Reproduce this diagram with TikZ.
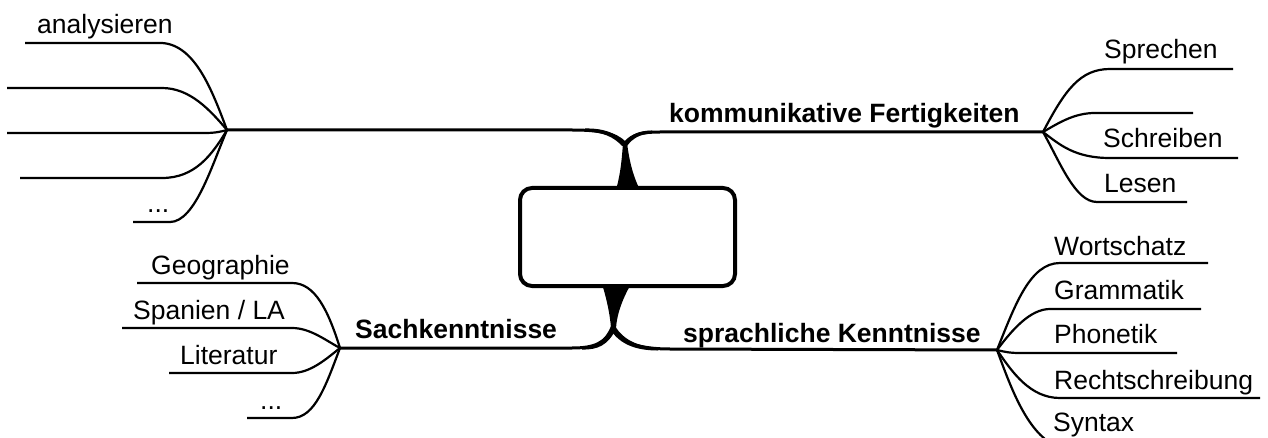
\documentclass[tikz,border=0pt]{standalone}
\usepackage{fontspec}
\setmainfont{Liberation Sans}
\begin{document}
\begin{tikzpicture}[x=1pt,y=-1pt,
  leaf/.style={anchor=base west,inner sep=0pt,font=\fontsize{26.5}{30}\selectfont},
  topic/.style={anchor=base west,inner sep=0pt,font=\fontsize{26.5}{30}\selectfont\bfseries},
  twig/.style={line width=2.2pt,line join=round},
  bough/.style={line width=3pt,line join=round},
  stem/.style={fill=black},
  centre/.style={draw,line width=4pt,rounded corners=12pt,fill=white}]
\useasboundingbox (0,0) rectangle (1268,438);
\clip (0,0) rectangle (1268,438);

% hubs where the twigs meet
\coordinate (hubA) at (227,130);
\coordinate (hubK) at (1043,132);
\coordinate (hubS) at (340,348);
\coordinate (hubL) at (997,350);
\coordinate (j1) at (625,143);
\coordinate (j2) at (613,328);

% tapered stems above and below the central box
\fill[stem] (616,190) .. controls (621,172) and (622,156) .. (623,143)
  -- (627,143) .. controls (629,158) and (632,174) .. (640,190) -- cycle;
\fill[stem] (602,284) .. controls (607,300) and (610,315) .. (611,328)
  -- (616,328) .. controls (617,313) and (623,298) .. (631,284) -- cycle;

% main boughs, thicker where they leave the stems
\draw[bough] (j1) .. controls (615,133) and (600,130) .. (572,130) -- (hubA);
\fill[stem] (626,145) .. controls (618,133) and (603,128) .. (585,128.5)
  -- (585,131.5) .. controls (603,132) and (614,137) .. (622,146) -- cycle;
\draw[bough] (j1) .. controls (632,135) and (640,132) .. (660,132) -- (hubK);
\fill[stem] (622,145) .. controls (630,135) and (638,130.5) .. (652,130.5)
  -- (652,133.5) .. controls (640,134) and (633,138) .. (627,146) -- cycle;
\draw[bough] (j2) .. controls (605,343) and (595,348) .. (572,348) -- (hubS);
\fill[stem] (611,326) .. controls (605,341) and (596,346) .. (582,346.5)
  -- (582,349.5) .. controls (598,350) and (608,345) .. (616,329) -- cycle;
\draw[bough] (j2) .. controls (620,343) and (640,349) .. (670,349) -- (hubL);
\fill[stem] (610,329) .. controls (620,345) and (637,350.5) .. (658,350.5)
  -- (658,347.5) .. controls (640,347) and (624,341) .. (615,326) -- cycle;

% central box
\node[centre,minimum width=215pt,minimum height=98pt] (core) at (627.5,237) {};

% topic labels
\node[topic] (komm) at (669,123) {kommunikative Fertigkeiten};
\node[topic] (sach) at (355,338) {Sachkenntnisse};
\node[topic] (spra) at (683,342) {sprachliche Kenntnisse};

% twigs on the upper left
\coordinate (a1) at (25,43);
\coordinate (a2) at (7,88);
\coordinate (a3) at (7,133);
\coordinate (a4) at (20,178);
\coordinate (a5) at (133,222);
\draw[twig] (hubA) .. controls (212,90) and (195,45) .. (162,43) -- (a1);
\draw[twig] (hubA) .. controls (210,110) and (190,88) .. (162,88) -- (a2);
\draw[twig] (hubA) .. controls (220,132) and (214,133) .. (205,133) -- (a3);
\draw[twig] (hubA) .. controls (212,155) and (195,178) .. (162,178) -- (a4);
\draw[twig] (hubA) .. controls (212,165) and (195,222) .. (170,222) -- (a5);
\node[leaf] (analys) at (37,34) {analysieren};
\node[leaf] (adots) at (147,213) {...};

% twigs on the upper right
\coordinate (k1) at (1233,69);
\coordinate (k2) at (1193,113);
\coordinate (k3) at (1238,158);
\coordinate (k4) at (1187,202);
\draw[twig] (hubK) .. controls (1065,90) and (1080,69) .. (1110,69) -- (k1);
\draw[twig] (hubK) .. controls (1060,122) and (1075,113) .. (1095,113) -- (k2);
\draw[twig] (hubK) .. controls (1060,145) and (1075,158) .. (1110,158) -- (k3);
\draw[twig] (hubK) .. controls (1060,162) and (1075,202) .. (1097,202) -- (k4);
\node[leaf] (sprech) at (1104,59) {Sprechen};
\node[leaf] (schreib) at (1103,148) {Schreiben};
\node[leaf] (lesen) at (1104,193) {Lesen};

% twigs on the lower left
\coordinate (s1) at (137,283);
\coordinate (s2) at (122,328);
\coordinate (s3) at (169,373);
\coordinate (s4) at (247,418);
\draw[twig] (hubS) .. controls (328,310) and (315,283) .. (292,283) -- (s1);
\draw[twig] (hubS) .. controls (325,340) and (310,328) .. (292,328) -- (s2);
\draw[twig] (hubS) .. controls (325,360) and (310,373) .. (292,373) -- (s3);
\draw[twig] (hubS) .. controls (326,385) and (315,418) .. (292,418) -- (s4);
\node[leaf] (geo) at (151,274) {Geographie};
\node[leaf] (span) at (133,319) {Spanien / LA};
\node[leaf] (lit) at (180,364) {Literatur};
\node[leaf] (sdots) at (260,409) {...};

% twigs on the lower right
\coordinate (l1) at (1208,263);
\coordinate (l2) at (1201,309);
\coordinate (l3) at (1177,353);
\coordinate (l4) at (1260,398);
\coordinate (l5) at (1140,444);
\draw[twig] (hubL) .. controls (1015,305) and (1030,263) .. (1060,263) -- (l1);
\draw[twig] (hubL) .. controls (1012,330) and (1030,309) .. (1050,309) -- (l2);
\draw[twig] (hubL) .. controls (1005,352) and (1010,353) .. (1020,353) -- (l3);
\draw[twig] (hubL) .. controls (1012,372) and (1030,398) .. (1060,398) -- (l4);
\draw[twig] (hubL) .. controls (1010,385) and (1025,428) .. (1052,444) -- (l5);
\node[leaf] (wort) at (1054,255) {Wortschatz};
\node[leaf] (gram) at (1054,299) {Grammatik};
\node[leaf] (phon) at (1054,343) {Phonetik};
\node[leaf] (recht) at (1054,389) {Rechtschreibung};
\node[leaf] (syn) at (1053,431) {Syntax};
\end{tikzpicture}
\end{document}
